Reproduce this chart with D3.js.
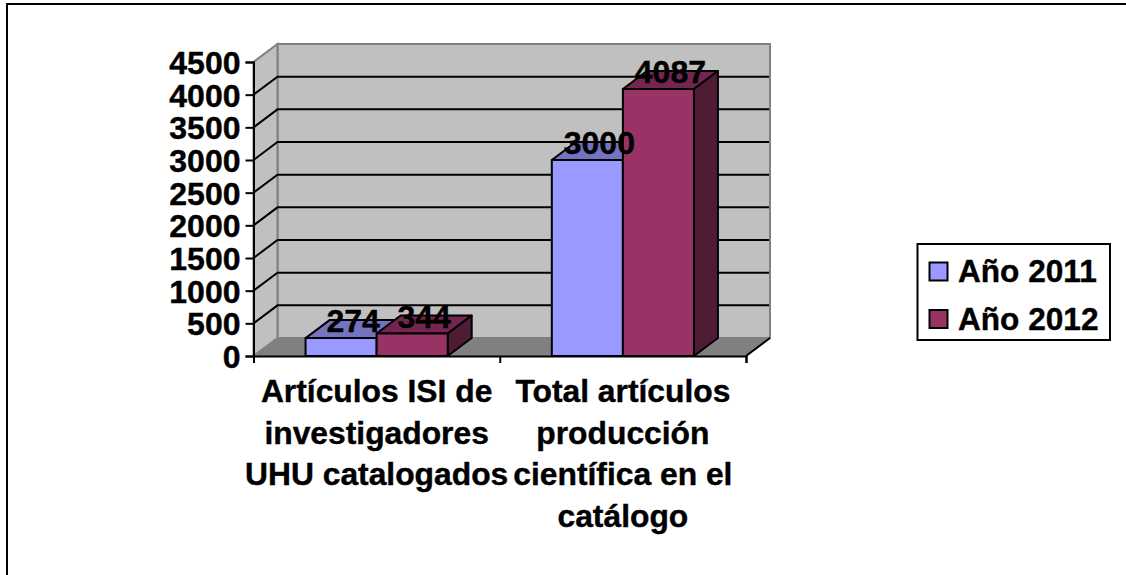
<!DOCTYPE html>
<html>
<head>
<meta charset="utf-8">
<script src="https://cdnjs.cloudflare.com/ajax/libs/d3/7.8.5/d3.min.js"></script>
<style>
	html, body { margin: 0; padding: 0; background: #fff; }
	svg { display: block; }
	text { font-family: "Liberation Sans", Arial, sans-serif; font-weight: bold; fill: #000; stroke: #000; stroke-width: 0.4px; }
</style>
</head>
<body>
<script>
"use strict";

var categories = ["Artículos ISI de investigadores UHU catalogados", "Total artículos producción científica en el catálogo"];
var categoryLines = [
	["Artículos ISI de", "investigadores", "UHU catalogados"],
	["Total artículos", "producción", "científica en el", "catálogo"]
];
var seriesNames = ["Año 2011", "Año 2012"];
var values2011 = [274, 3000];
var values2012 = [344, 4087];
var yTicks = [0, 500, 1000, 1500, 2000, 2500, 3000, 3500, 4000, 4500];

var colors = ["#9999FF", "#993366"];
var topColors = ["#7373BF", "#732650"];
var sideColors = ["#5C5C99", "#4F1C36"];

var svg = d3.select("body").append("svg").attr("width", 1126).attr("height", 575);

// chart frame
svg.append("rect").attr("x", 7).attr("y", 4).attr("width", 1125).attr("height", 580)
	.attr("fill", "#fff").attr("stroke", "#000").attr("stroke-width", 2);

var x0 = d3.scaleBand().domain(categories).range([253.5, 746]).paddingInner(0.4228).paddingOuter(0.2114);
var x1 = d3.scaleBand().domain(seriesNames).range([0, x0.bandwidth()]);
var y = d3.scaleLinear().domain([0, 4500]).range([356, 62]);

// depth of the 3d box
var dx = 24, dy = -18;
var right = x0.range()[1], left = x0.range()[0];
var base = y(0), top0 = y(4500);

function poly(pts){
	return pts.map(function(p){ return p.join(","); }).join(" ");
}

// back wall, side wall and floor
svg.append("polygon").attr("points", poly([[left+dx,top0+dy],[right+dx,top0+dy],[right+dx,base+dy],[left+dx,base+dy]]))
	.attr("fill", "#C0C0C0").attr("stroke", "#808080").attr("stroke-width", 2);
svg.append("polygon").attr("points", poly([[left,top0],[left+dx,top0+dy],[left+dx,base+dy],[left,base]]))
	.attr("fill", "#C0C0C0").attr("stroke", "#808080").attr("stroke-width", 2);
svg.append("polygon").attr("points", poly([[left,base],[left+dx,base+dy],[right+dx,base+dy],[right,base]]))
	.attr("fill", "#808080").attr("stroke", "#808080").attr("stroke-width", 1);

// gridlines, on the side wall and along the back
var grid = svg.append("g");
yTicks.slice(1, -1).forEach(function(t){
	grid.append("path")
		.attr("d", "M" + left + "," + y(t) + "L" + (left+dx) + "," + (y(t)+dy) + "L" + (right+dx-1) + "," + (y(t)+dy))
		.attr("fill", "none").attr("stroke", "#000").attr("stroke-width", 2);
});
grid.append("path")
	.attr("d", "M" + right + "," + base + "L" + (right+dx) + "," + (base+dy))
	.attr("fill", "none").attr("stroke", "#000").attr("stroke-width", 2);
grid.append("path")
	.attr("d", "M" + left + "," + base + "L" + (left+dx) + "," + (base+dy))
	.attr("fill", "none").attr("stroke", "#808080").attr("stroke-width", 1.5);

// bars
var series = [values2011, values2012];
var bars = svg.append("g");
categories.forEach(function(c, ci){
	series.forEach(function(vals, si){
		var xa = x0(c) + x1(seriesNames[si]);
		var xb = xa + x1.bandwidth();
		var yt = y(vals[ci]);
		var g = bars.append("g").attr("stroke", "#000").attr("stroke-width", 2).attr("stroke-linejoin", "round");
		g.append("polygon").attr("points", poly([[xa,yt],[xa+dx,yt+dy],[xb+dx,yt+dy],[xb,yt]])).attr("fill", topColors[si]);
		g.append("polygon").attr("points", poly([[xb,yt],[xb+dx,yt+dy],[xb+dx,base+dy],[xb,base]])).attr("fill", sideColors[si]);
		g.append("rect").attr("x", xa).attr("y", yt).attr("width", xb-xa).attr("height", base-yt).attr("fill", colors[si]);
	});
});

// data labels sit on top of the bars
categories.forEach(function(c, ci){
	series.forEach(function(vals, si){
		var xa = x0(c) + x1(seriesNames[si]);
		svg.append("text")
			.attr("x", xa + x1.bandwidth()/2 + dx/2)
			.attr("y", y(vals[ci]) + dy/2 + 3)
			.attr("text-anchor", "middle").style("font-size", "32px")
			.text(vals[ci]);
	});
});

// axes
var yAxis = svg.append("g").attr("transform", "translate(" + left + ",0)")
	.call(d3.axisLeft(y).tickValues(yTicks).tickSize(8).tickPadding(5).tickFormat(d3.format("d")));
yAxis.selectAll("path,line").attr("stroke", "#000").attr("stroke-width", 2);
yAxis.selectAll("text").style("font-size", "32px").attr("font-family", null).attr("dy", "0.36em");

var xAxis = d3.axisBottom(d3.scalePoint().domain([0, 1, 2]).range([left, right])).tickSize(7).tickFormat("");
var xg = svg.append("g").attr("transform", "translate(0," + base + ")").call(xAxis);
xg.selectAll("path,line").attr("stroke", "#000").attr("stroke-width", 2);

// category labels
categories.forEach(function(c, ci){
	var cx = x0(c) + x0.bandwidth()/2;
	var t = svg.append("text").attr("text-anchor", "middle").style("font-size", "31.8px");
	categoryLines[ci].forEach(function(line, li){
		t.append("tspan").attr("x", cx).attr("y", 402 + li*41.7).text(line);
	});
});

// legend
var legend = svg.append("g");
legend.append("rect").attr("x", 917.5).attr("y", 244).attr("width", 192.5).attr("height", 96)
	.attr("fill", "#fff").attr("stroke", "#000").attr("stroke-width", 2);
seriesNames.forEach(function(s, i){
	legend.append("rect").attr("x", 929.5).attr("y", 262.5 + i*47.5).attr("width", 18).attr("height", 18)
		.attr("fill", colors[i]).attr("stroke", "#000").attr("stroke-width", 2);
	legend.append("text").attr("x", 958).attr("y", 282 + i*47.5).style("font-size", "31.6px").text(s);
});
</script>
</body>
</html>
